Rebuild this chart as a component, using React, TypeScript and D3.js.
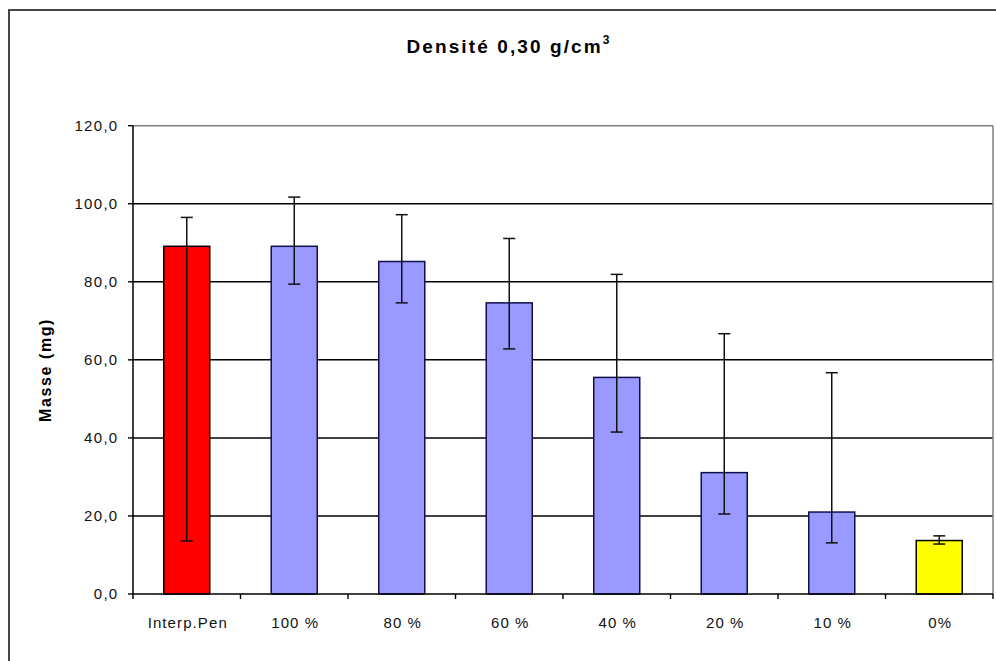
import React from "react";
import * as d3 from "d3";

const categories = ["Interp.Pen", "100 %", "80 %", "60 %", "40 %", "20 %", "10 %", "0%"];
const means = [89.1, 89.1, 85.2, 74.6, 55.5, 31.1, 21.0, 13.7];
const upperErr = [96.5, 101.7, 97.2, 91.1, 81.9, 66.7, 56.7, 14.9];
const lowerErr = [13.6, 79.4, 74.6, 62.8, 41.5, 20.5, 13.1, 12.8];
const barColors = ["#FF0000", "#9999FF", "#9999FF", "#9999FF", "#9999FF", "#9999FF", "#9999FF", "#FFFF00"];
const yTicks = [0, 20, 40, 60, 80, 100, 120];

const W = 996;
const H = 661;
const plot = { left: 133, right: 993, top: 125.7, bottom: 594 };

export default function App() {
  const x = d3
    .scaleBand<string>()
    .domain(categories)
    .range([plot.left, plot.right])
    .paddingInner(0.572)
    .paddingOuter(0.286);
  const y = d3.scaleLinear().domain([0, 120]).range([plot.bottom, plot.top]);
  const step = x.step();
  const fmt = (v: number) => d3.format(".1f")(v).replace(".", ",");
  const font = "'Liberation Sans', Arial, sans-serif";

  return (
    <svg
      width={W}
      height={H}
      style={{ position: "fixed", left: 0, top: 0, display: "block", background: "#fff" }}
      fontFamily={font}
    >
      <rect x={0} y={0} width={W} height={H} fill="#fff" />
      {/* outer chart frame */}
      <rect x={9} y={10} width={1100} height={700} fill="none" stroke="#333" strokeWidth={1.8} />

      {/* title */}
      <text x={509} y={53} textAnchor="middle" fontSize={19} fontWeight="bold" letterSpacing={2.1} fill="#000">
        Densité 0,30 g/cm
        <tspan fontSize={12} dy={-9}>3</tspan>
      </text>

      {/* gridlines */}
      {yTicks
        .filter((t) => t > 0 && t < 120)
        .map((t) => (
          <line key={"g" + t} x1={plot.left} x2={plot.right} y1={y(t)} y2={y(t)} stroke="#000" strokeWidth={1.5} />
        ))}
      {/* plot area border top/right */}
      <line x1={plot.left} x2={plot.right} y1={y(120)} y2={y(120)} stroke="#808080" strokeWidth={1.5} />
      <line x1={plot.right} x2={plot.right} y1={y(120)} y2={plot.bottom} stroke="#808080" strokeWidth={1.5} />

      {/* bars */}
      {categories.map((c, i) => (
        <rect
          key={"b" + c}
          x={x(c)!}
          y={y(means[i])}
          width={x.bandwidth()}
          height={plot.bottom - y(means[i])}
          fill={barColors[i]}
          stroke={i === 0 || i === 7 ? "#000" : "#10104a"}
          strokeWidth={1.5}
        />
      ))}

      {/* error bars */}
      {categories.map((c, i) => {
        const cx = x(c)! + x.bandwidth() / 2;
        return (
          <g key={"e" + c} stroke="#111" strokeWidth={1.5}>
            <line x1={cx} x2={cx} y1={y(upperErr[i])} y2={y(lowerErr[i])} />
            <line x1={cx - 6} x2={cx + 6} y1={y(upperErr[i])} y2={y(upperErr[i])} />
            <line x1={cx - 6} x2={cx + 6} y1={y(lowerErr[i])} y2={y(lowerErr[i])} />
          </g>
        );
      })}

      {/* axes */}
      <line x1={plot.left} x2={plot.left} y1={y(120)} y2={plot.bottom + 5} stroke="#000" strokeWidth={1.5} />
      <line x1={plot.left} x2={plot.right} y1={plot.bottom} y2={plot.bottom} stroke="#000" strokeWidth={1.5} />
      {yTicks.map((t) => (
        <g key={"yt" + t}>
          <line x1={plot.left - 5} x2={plot.left} y1={y(t)} y2={y(t)} stroke="#000" strokeWidth={1.4} />
          <text x={118.5} y={y(t)} dy="0.36em" textAnchor="end" fontSize={15} letterSpacing={1.3} fill="#111">
            {fmt(t)}
          </text>
        </g>
      ))}
      {categories.map((c, i) => (
        <line
          key={"xt" + c}
          x1={plot.left + step * (i + 1)}
          x2={plot.left + step * (i + 1)}
          y1={plot.bottom}
          y2={plot.bottom + 5}
          stroke="#000"
          strokeWidth={1.4}
        />
      ))}
      {categories.map((c) => (
        <text
          key={"xl" + c}
          x={x(c)! + x.bandwidth() / 2 + 1}
          y={628}
          textAnchor="middle"
          fontSize={15}
          letterSpacing={1.1}
          fill="#111"
        >
          {c}
        </text>
      ))}

      {/* y axis title */}
      <text
        transform={`translate(51,370) rotate(-90)`}
        textAnchor="middle"
        fontSize={16}
        fontWeight="bold"
        letterSpacing={1.6}
        fill="#000"
      >
        Masse (mg)
      </text>
    </svg>
  );
}
